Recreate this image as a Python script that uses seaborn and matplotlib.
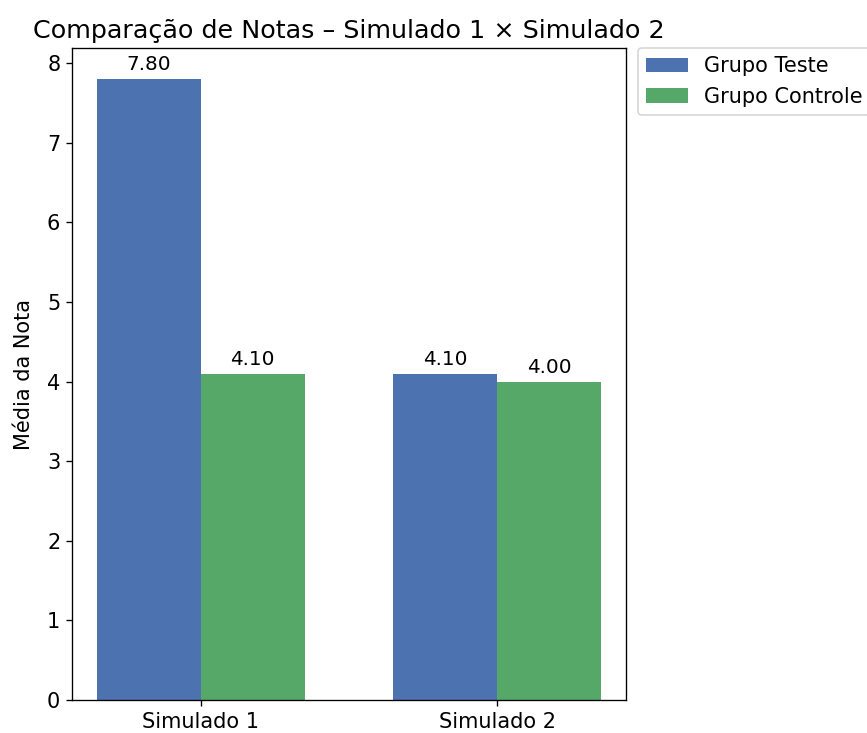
import matplotlib
matplotlib.use("Agg")
import matplotlib.pyplot as plt
import seaborn as sns
import pandas as pd

simulados = ["Simulado 1", "Simulado 2"]
grupos = ["Grupo Teste", "Grupo Controle"]
media_teste = [7.80, 4.10]
media_controle = [4.10, 4.00]

df = pd.DataFrame({
    "Simulado": simulados * 2,
    "Grupo": [grupos[0]] * 2 + [grupos[1]] * 2,
    "Media": media_teste + media_controle,
})

palette = {grupos[0]: "#4C72B0", grupos[1]: "#55A868"}

plt.rcParams["font.size"] = 12.5

fig = plt.figure(figsize=(867 / 120, 733 / 120), dpi=120)
ax = fig.add_axes([72 / 867, 33 / 733, 554 / 867, 652 / 733])

sns.barplot(data=df, x="Simulado", y="Media", hue="Grupo", hue_order=grupos,
            palette=palette, width=0.7, saturation=1, ax=ax)

for container in ax.containers:
    ax.bar_label(container, fmt="%.2f", padding=3, fontsize=12)

ax.set_xlim(-0.435, 1.435)
ax.set_ylim(0, 7.8 * 1.05)
ax.set_xlabel("")
ax.set_ylabel("Média da Nota", fontsize=12.5, labelpad=8)
ax.tick_params(labelsize=12.5)
ax.set_title("Comparação de Notas – Simulado 1 × Simulado 2", fontsize=15.2)
ax.legend(bbox_to_anchor=(1.021, 1), loc="upper left", borderaxespad=0,
          title=None, fontsize=12.5)

fig.savefig("out.png", dpi=120)
